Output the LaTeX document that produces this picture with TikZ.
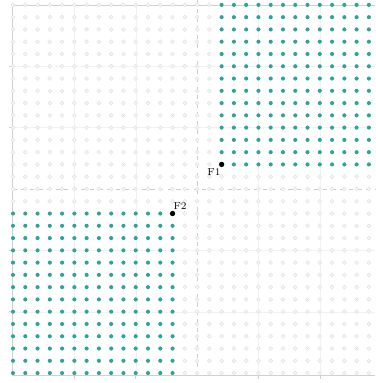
\documentclass[tikz,border=0pt]{standalone}
\usepackage{tikz}
\definecolor{regionColor}{HTML}{2AA596}
\definecolor{latticeColor}{HTML}{E4E4E4}
\definecolor{frameColor}{HTML}{D0D0D0}
\tikzset{
  latticept/.style={draw=latticeColor, fill=gray!7, line width=0.4pt},
  focuspt/.style={circle, fill=black, inner sep=0pt, minimum size=1.3mm},
  focuslabel/.style={font=\scriptsize, inner sep=0.5pt}
}

\begin{document}
\begin{tikzpicture}[scale=0.3]
    \useasboundingbox (-1.06,-0.81) rectangle (29.5,30.4);

    \foreach \k in {5,10,20,25} {
        \draw[gray!10, very thin] (\k,-0.2) -- (\k,30);
        \draw[gray!10, very thin] (-0.05,\k) -- (29.5,\k);
        \draw[frameColor] (-0.05,\k) -- (-0.3,\k);
        \draw[frameColor] (\k,-0.2) -- (\k,-0.45);
    }
    \draw[dashed, gray!40] (15,-0.2) -- (15,30.4);
    \draw[dashed, gray!40] (-0.05,15) -- (29.5,15);
    \draw[frameColor] (29.5,30) -- (-0.05,30) -- (-0.05,-0.2) -- (29.5,-0.2);

    \foreach \i in {0,...,29} {
        \foreach \j in {0,...,30} {
            \draw[latticept] (\i,\j) circle (0.16);
        }
    }
    \foreach \i in {0,...,13} {
        \foreach \j in {0,...,13} {
            \fill[regionColor] (\i,\j) circle (0.165);
        }
    }
    \foreach \i in {17,...,29} {
        \foreach \j in {17,...,30} {
            \fill[regionColor] (\i,\j) circle (0.165);
        }
    }

    \node[focuspt] (F1) at (17,17) {};
    \node[focuspt] (F2) at (13,13) {};
    \node[focuslabel, anchor=north east] (F1lbl) at (F1.south) {F1};
    \node[focuslabel, anchor=south west] (F2lbl) at (F2.north) {F2};
\end{tikzpicture}
\end{document}
